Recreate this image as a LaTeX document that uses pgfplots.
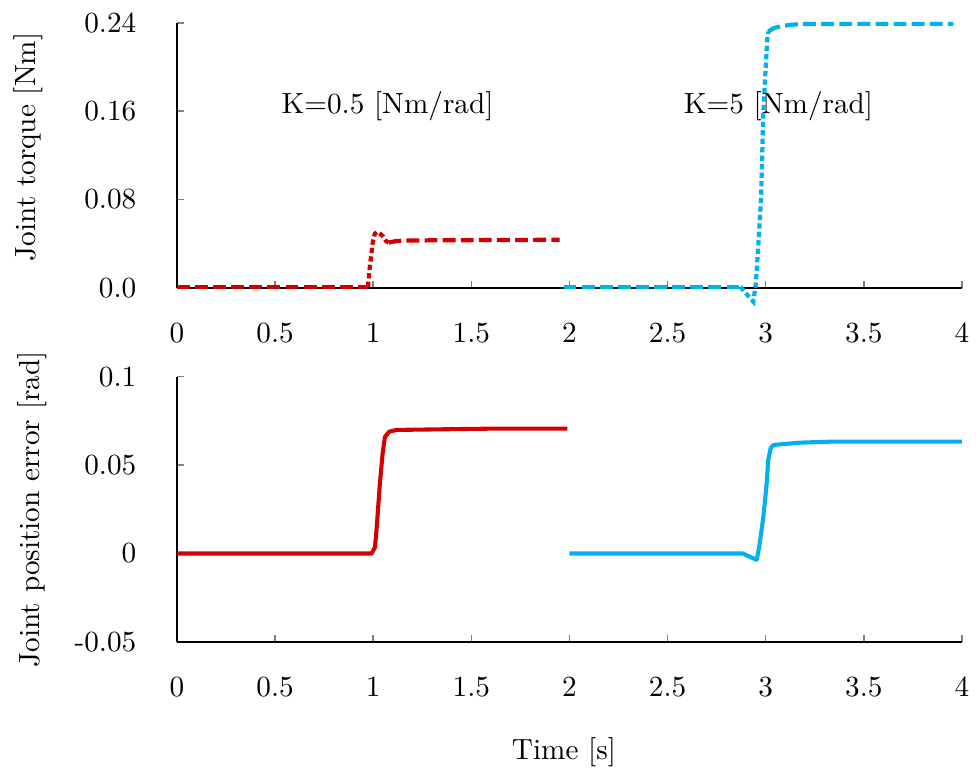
\documentclass[border=0pt]{standalone}
\usepackage{pgfplots}
\pgfplotsset{compat=1.18}

\definecolor{kred}{RGB}{210,0,0}
\definecolor{kblue}{RGB}{0,176,240}

\pgfplotsset{
  jointaxis/.style={
    scale only axis, width=268.8pt, height=90.8pt,
    xmin=0, xmax=4,
    axis x line=bottom, axis y line=left,
    axis line style={-, line width=0.6pt},
    tick align=inside,
    major tick length=2.4pt,
    major tick style={line width=0.5pt},
    xtick={0,0.5,1,1.5,2,2.5,3,3.5,4},
    xticklabels={0,0.5,1,1.5,2,2.5,3,3.5,4},
    xticklabel style={yshift=-8.5pt},
    yticklabel style={xshift=-10.4pt},
    clip=false,
  },
  longdash/.style={line width=1.45pt, dash pattern=on 4.4pt off 1.8pt},
  shortdash/.style={line width=1.45pt, dash pattern=on 1.8pt off 1.1pt},
  solidline/.style={line width=1.4pt, line join=round},
}

\begin{document}
\begin{tikzpicture}
\path[use as bounding box] (-60.6pt,-165.8pt) rectangle (274.3pt,98.6pt);

% Joint torque
\begin{axis}[jointaxis,
  ymin=0, ymax=0.24,
  ytick={0,0.08,0.16,0.24},
  yticklabels={0.0,0.08,0.16,0.24},
  ylabel={Joint torque [Nm]},
  ylabel style={at={(axis description cs:-0.190,0.532)}, anchor=center},
]
\node[anchor=base] at (axis cs:1.073,0.158) {K=0.5 [Nm/rad]};
\node[anchor=base] at (axis cs:3.065,0.158) {K=5 [Nm/rad]};

% K = 0.5
\addplot[kred, longdash] coordinates {(0,0.001) (0.973,0.001)};
\addplot[kred, shortdash] coordinates {
  (0.973,0.001) (0.983,0.0193) (0.997,0.0405) (1.008,0.049) (1.02,0.0507)
  (1.035,0.049) (1.051,0.0465) (1.065,0.0425) (1.078,0.041)};
\addplot[kred, longdash] coordinates {
  (1.078,0.041) (1.11,0.0422) (1.153,0.0429) (1.4,0.0432) (1.7,0.0434) (1.95,0.0436)};

% K = 5
\addplot[kblue, longdash] coordinates {(1.97,0.001) (2.87,0.001)};
\addplot[kblue, shortdash] coordinates {
  (2.87,0.001) (2.937,-0.0124) (2.95,0.0045) (2.963,0.04) (2.976,0.0797)
  (2.988,0.158) (3.0,0.2) (3.008,0.225) (3.013,0.232)};
\addplot[kblue, longdash] coordinates {
  (3.013,0.232) (3.04,0.235) (3.073,0.2367) (3.12,0.238) (3.175,0.2388)
  (3.4,0.239) (3.7,0.239) (3.956,0.239)};
\end{axis}

% Joint position error
\begin{axis}[jointaxis,
  at={(0,-121.2pt)}, anchor=south west,
  ymin=-0.05, ymax=0.1,
  ytick={-0.05,0,0.05,0.1},
  yticklabels={-0.05,0,0.05,0.1},
  ylabel={Joint position error [rad]},
  ylabel style={at={(axis description cs:-0.185,0.5)}, anchor=center},
  xlabel={Time [s]},
  xlabel style={at={(axis description cs:0.493,-0.415)}, anchor=center},
]
\addplot[kred, solidline] coordinates {
  (0,0) (0.992,0) (1.009,0.0036) (1.018,0.0149) (1.034,0.0396) (1.048,0.0566)
  (1.060,0.066) (1.082,0.0689) (1.119,0.0699) (1.586,0.0706) (1.989,0.0706)};
\addplot[kblue, solidline] coordinates {
  (2.0,0) (2.883,0) (2.954,-0.0036) (2.967,0.0036) (2.988,0.0206) (3.005,0.0396)
  (3.013,0.0528) (3.025,0.0595) (3.039,0.0614) (3.175,0.0627) (3.344,0.0633)
  (3.616,0.0633) (4.0,0.0633)};
\end{axis}
\end{tikzpicture}
\end{document}
